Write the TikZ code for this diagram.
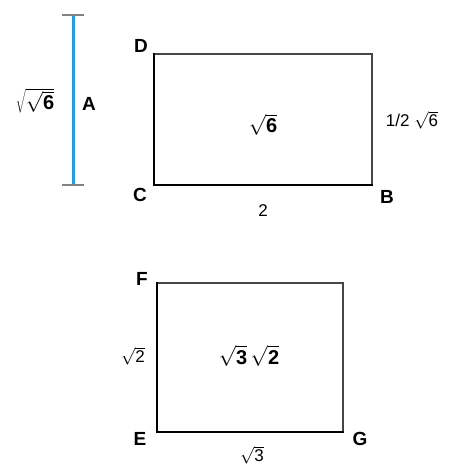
\documentclass[tikz,border=0pt]{standalone}
\usepackage{fontspec}
\setmainfont{Liberation Sans}
\definecolor{segblue}{RGB}{35,160,220}
\definecolor{capgray}{RGB}{130,130,130}
\definecolor{edgegray}{RGB}{70,70,70}
\tikzset{
  lbl/.style={font=\fontsize{19}{22}\selectfont\bfseries, inner sep=0pt},
  txt/.style={font=\fontsize{17}{20}\selectfont, inner sep=0pt},
  big/.style={font=\fontsize{20}{24}\selectfont, inner sep=0pt},
  thick edge/.style={line width=2.6pt, black},
  thin edge/.style={line width=1.4pt, edgegray},
  segment/.style={line width=3pt, segblue},
  capline/.style={line width=2pt, capgray}
}
\begin{document}
\begin{tikzpicture}[x=1pt,y=-1pt]
\useasboundingbox (0,0) rectangle (458,465);
% segment A
\coordinate (st) at (73,15);
\coordinate (sb) at (73,185);
\draw[segment] (st) -- (sb);
\draw[capline] ([xshift=-11pt]st) -- ([xshift=11pt]st);
\draw[capline] ([xshift=-11pt]sb) -- ([xshift=11pt]sb);
\node[big] (rr) at (35,101) {$\sqrt{\sqrt{\mbox{\bfseries 6}}}$};
\node[lbl] (A) at (89,104) {A};
% rectangle 1
\coordinate (C) at (154,185);
\coordinate (D) at (154,54);
\coordinate (B) at (372,185);
\coordinate (TR) at (372,54);
\draw[thin edge] (D) -- (TR) -- (B);
\draw[thick edge, line cap=rect] (D) -- (C) -- (B);
\node[lbl] (lD) at (141,46) {D};
\node[lbl] (lC) at (140,195) {C};
\node[lbl] (lB) at (387,197) {B};
\node[txt] (l2) at (263,211) {2};
\node[txt] (lh) at (412,120) {1/2 $\sqrt{\mbox{6}}$};
\node[big] (a1) at (263,125) {$\sqrt{\mbox{\bfseries 6}}$};
% rectangle 2
\coordinate (E) at (157,432);
\coordinate (F) at (157,283);
\coordinate (G) at (343,432);
\coordinate (TR2) at (343,283);
\draw[thin edge] (F) -- (TR2) -- (G);
\draw[thick edge, line cap=rect] (F) -- (E) -- (G);
\node[lbl] (lF) at (142,279) {F};
\node[lbl] (lE) at (140,439) {E};
\node[lbl] (lG) at (360,439) {G};
\node[txt] (s2) at (133,356) {$\sqrt{\mbox{2}}$};
\node[big] (a2) at (249,356) {$\sqrt{\mbox{\bfseries 3}}\,\sqrt{\mbox{\bfseries 2}}$};
\node[txt] (s3) at (252,455) {$\sqrt{\mbox{3}}$};
\end{tikzpicture}
\end{document}
